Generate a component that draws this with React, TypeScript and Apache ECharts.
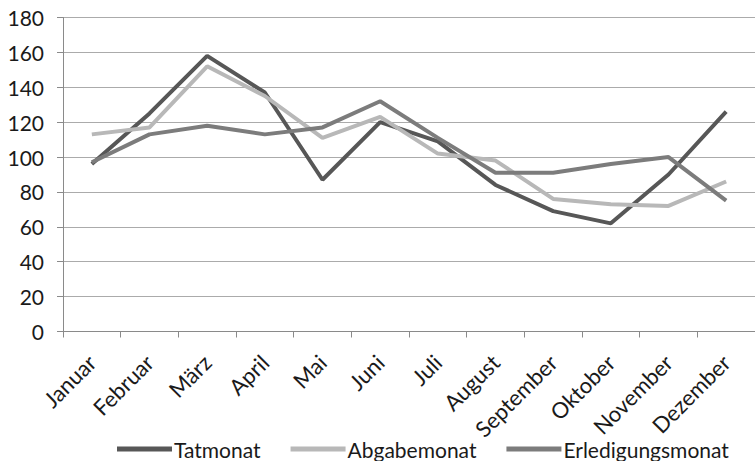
import React, { useEffect, useRef } from "react";
import * as echarts from "echarts";

const months = ["Januar", "Februar", "März", "April", "Mai", "Juni", "Juli", "August", "September", "Oktober", "November", "Dezember"];
const tatmonat = [96, 125, 158, 137, 87, 120, 109, 84, 69, 62, 90, 126];
const abgabemonat = [113, 117, 152, 135, 111, 123, 102, 98, 76, 73, 72, 86];
const erledigungsmonat = [97, 113, 118, 113, 117, 132, 111, 91, 91, 96, 100, 75];
const seriesNames = ["Tatmonat", "Abgabemonat", "Erledigungsmonat"];
const seriesColors = ["#575757", "#b8b8b8", "#7c7c7c"];

export default function App() {
  const ref = useRef<HTMLDivElement>(null);
  useEffect(() => {
    if (!ref.current) return;
    const chart = echarts.init(ref.current, undefined, { renderer: "svg" });
    const font = "Lato, 'Open Sans', sans-serif";
    const data = [tatmonat, abgabemonat, erledigungsmonat];
    chart.setOption({
      animation: false,
      backgroundColor: "#ffffff",
      textStyle: { fontFamily: font },
      grid: { left: 63, right: -4, top: 17.5, bottom: 129.5, containLabel: false },
      legend: {
        left: 112,
        top: 432,
        itemWidth: 55,
        itemHeight: 5,
        itemGap: 30,
        icon: "rect",
        textStyle: { fontSize: 21, lineHeight: 24, color: "#1a1a1a", fontFamily: font, padding: [0, 0, 0, -3] },
        data: seriesNames,
      },
      xAxis: {
        type: "category",
        data: months,
        boundaryGap: true,
        axisLine: { lineStyle: { color: "#8a8a8a", width: 1 } },
        axisTick: { show: true, length: 6, lineStyle: { color: "#8a8a8a" } },
        axisLabel: {
          rotate: 45,
          interval: 0,
          fontSize: 22,
          color: "#1a1a1a",
          margin: 27,
          fontFamily: font,
        },
      },
      yAxis: {
        type: "value",
        min: 0,
        max: 180,
        interval: 20,
        axisLine: { show: true, lineStyle: { color: "#8a8a8a", width: 1 } },
        axisTick: { show: true, length: 6, lineStyle: { color: "#8a8a8a" } },
        axisLabel: { fontSize: 21, color: "#1a1a1a", margin: 19, fontFamily: font },
        splitLine: { lineStyle: { color: "#ababab", width: 1 } },
      },
      series: seriesNames.map((name, i) => ({
        name,
        type: "line",
        data: data[i],
        symbol: "none",
        color: seriesColors[i],
        lineStyle: { width: 4, color: seriesColors[i] },
      })),
    });
    return () => chart.dispose();
  }, []);
  return <div ref={ref} style={{ position: "absolute", left: 0, top: 0, width: 755, height: 461 }} />;
}
